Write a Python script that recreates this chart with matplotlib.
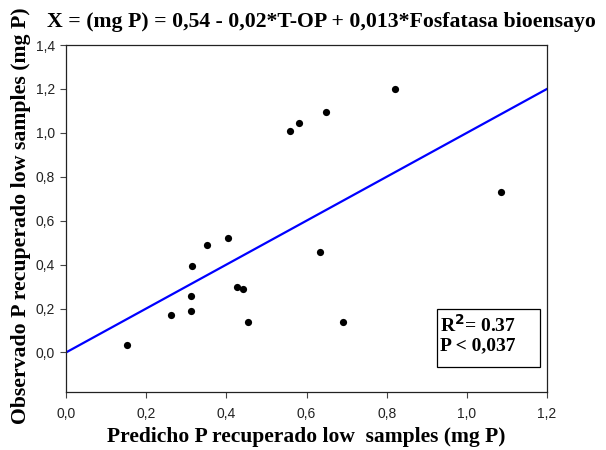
import matplotlib.pyplot as plt
from matplotlib.patches import Rectangle

# datos
predicho = [0.151, 0.261, 0.311, 0.312, 0.314, 0.351, 0.403, 0.426, 0.441,
            0.453, 0.560, 0.581, 0.633, 0.649, 0.692, 0.822, 1.084]
observado = [0.032, 0.171, 0.188, 0.259, 0.394, 0.489, 0.523, 0.298, 0.291,
             0.139, 1.010, 1.045, 0.459, 1.095, 0.141, 1.200, 0.730]
linea_x = [0.0, 1.2]
linea_y = [0.0, 1.2]
xticks = [0.0, 0.2, 0.4, 0.6, 0.8, 1.0, 1.2]
yticks = [0.0, 0.2, 0.4, 0.6, 0.8, 1.0, 1.2, 1.4]

serif = 'Liberation Serif'

fig = plt.figure(figsize=(6.06, 4.5), dpi=100)
ax = fig.add_axes([66/606, 58/450, 481/606, 347/450])

ax.scatter(predicho, observado, s=27, color='black', zorder=3, linewidths=0)
ax.plot(linea_x, linea_y, color='#0000ff', lw=1.6, zorder=2)

ax.set_xlim(0, 1.2)
ax.set_ylim(-0.18, 1.4)
ax.set_xticks(xticks)
ax.set_yticks(yticks)
ax.set_xticklabels([f"{t:.1f}".replace('.', ',') for t in xticks])
ax.set_yticklabels([f"{t:.1f}".replace('.', ',') for t in yticks])
ax.tick_params(direction='out', length=4, width=0.8, color='#444444',
               labelsize=10, labelcolor='#222222', top=False, right=False)
ax.tick_params(axis='x', pad=7)
ax.tick_params(axis='y', pad=4)
for t in ax.get_xticklabels() + ax.get_yticklabels():
    t.set_fontfamily('Liberation Sans')
for s in ax.spines.values():
    s.set_linewidth(0.9)
    s.set_color('#222222')

# caja con R2 y P
ax.add_patch(Rectangle((0.926, -0.068), 0.257, 0.268, fc='white', ec='black',
                       lw=0.9, zorder=4))
ax.text(0.932, 0.128, "R$^{\\mathbf{2}}$= 0.37", fontsize=14, fontweight='bold',
        family=serif, va='center', ha='left', zorder=5)
ax.text(0.932, 0.03, "P < 0,037", fontsize=14, fontweight='bold',
        family=serif, va='center', ha='left', zorder=5)

fig.text(47/606, 1 - 27/450,
         "X = (mg P) = 0,54 - 0,02*T-OP + 0,013*Fosfatasa bioensayo",
         fontsize=15.7, fontweight='bold', family=serif, ha='left', va='baseline')
fig.text(21/606, 1 - 216/450, "Observado P recuperado low samples (mg P)",
         rotation=90, fontsize=15.7, fontweight='bold', family=serif,
         ha='center', va='center')
fig.text(306/606, 1 - 437/450, "Predicho P recuperado low  samples (mg P)",
         fontsize=15.5, fontweight='bold', family=serif, ha='center', va='center')

fig.savefig("out.png", dpi=100)
